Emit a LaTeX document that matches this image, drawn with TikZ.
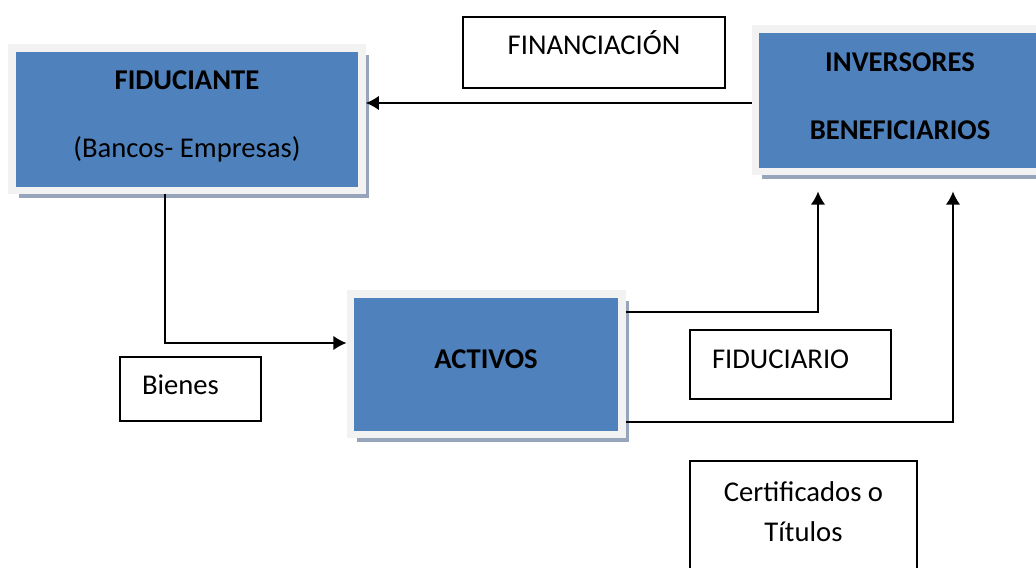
\documentclass[tikz,border=0pt]{standalone}
\usepackage{fontspec}
\setmainfont{Carlito}
\usetikzlibrary{arrows.meta, positioning, shadows}

\definecolor{boxblue}{RGB}{79,129,189}
\definecolor{boxframe}{RGB}{242,242,242}
\definecolor{boxshadow}{RGB}{150,165,185}

\begin{document}
\begin{tikzpicture}[>={Latex[length=7.4pt, width=8pt]}, line width=0.75pt, on grid,
    font=\fontsize{16.3}{22.7}\selectfont,
    bluebox/.style={rectangle, fill=boxblue, draw=boxframe, line width=0.15cm, align=center,
      font=\fontsize{16.3}{38.6}\selectfont, text depth=0.18cm,
      drop shadow={shadow xshift=0.14cm, shadow yshift=-0.14cm, fill=boxshadow, opacity=1}},
    whitebox/.style={rectangle, draw=black, fill=white, line width=0.8pt, inner ysep=0pt,
      text height=0.76cm, text depth=0.6cm}]
  \useasboundingbox (0,0) rectangle (20.72,11.34);

  \node[bluebox, minimum width=7cm, minimum height=2.85cm, text depth=0.22cm] (fid) at (3.74,8.95)
    {\textbf{FIDUCIANTE}\\(Bancos- Empresas)};
  \node[bluebox, minimum width=5.43cm, minimum height=2.81cm, text depth=0.2cm] [below right=4.9cm and 5.98cm of fid] (act)
    {\textbf{ACTIVOS}};
  \node[bluebox, minimum width=5.79cm, minimum height=2.85cm, text depth=0.16cm] [above right=5.28cm and 8.28cm of act] (inv)
    {\textbf{INVERSORES}\\\textbf{BENEFICIARIOS}};

  \node[whitebox, minimum width=5.24cm, text depth=0.66cm] [above right=1.34cm and 8.14cm of fid] (fin) {FINANCIACIÓN};
  \node[whitebox, text width=1.94cm, inner xsep=0.44cm, text depth=0.52cm] [below right=5.39cm and 0.07cm of fid] (bien) {Bienes};
  \node[whitebox, text width=3.14cm, inner xsep=0.44cm, text height=0.78cm] [right=6.09cm of act] (fdr) {FIDUCIARIO};
  \node[whitebox, minimum width=4.54cm, align=center, text height=1.6cm, text depth=0.8cm] [below right=3.13cm and 0.26cm of fdr] (cert)
    {Certificados o\\Títulos};

  \draw[->] ([yshift=-0.05cm]inv.west) -- ([yshift=-0.05cm]inv.west -| fid.east);
  \draw[->] ([xshift=-0.44cm]fid.south) |- ([yshift=0.43cm]act.west);
  \draw[->, shorten >=0.32cm] ([yshift=1.05cm]act.east) -| ([xshift=-1.64cm]inv.south);
  \draw[->, shorten >=0.32cm] ([yshift=-1.15cm]act.east) -| ([xshift=1.06cm]inv.south);
\end{tikzpicture}
\end{document}
